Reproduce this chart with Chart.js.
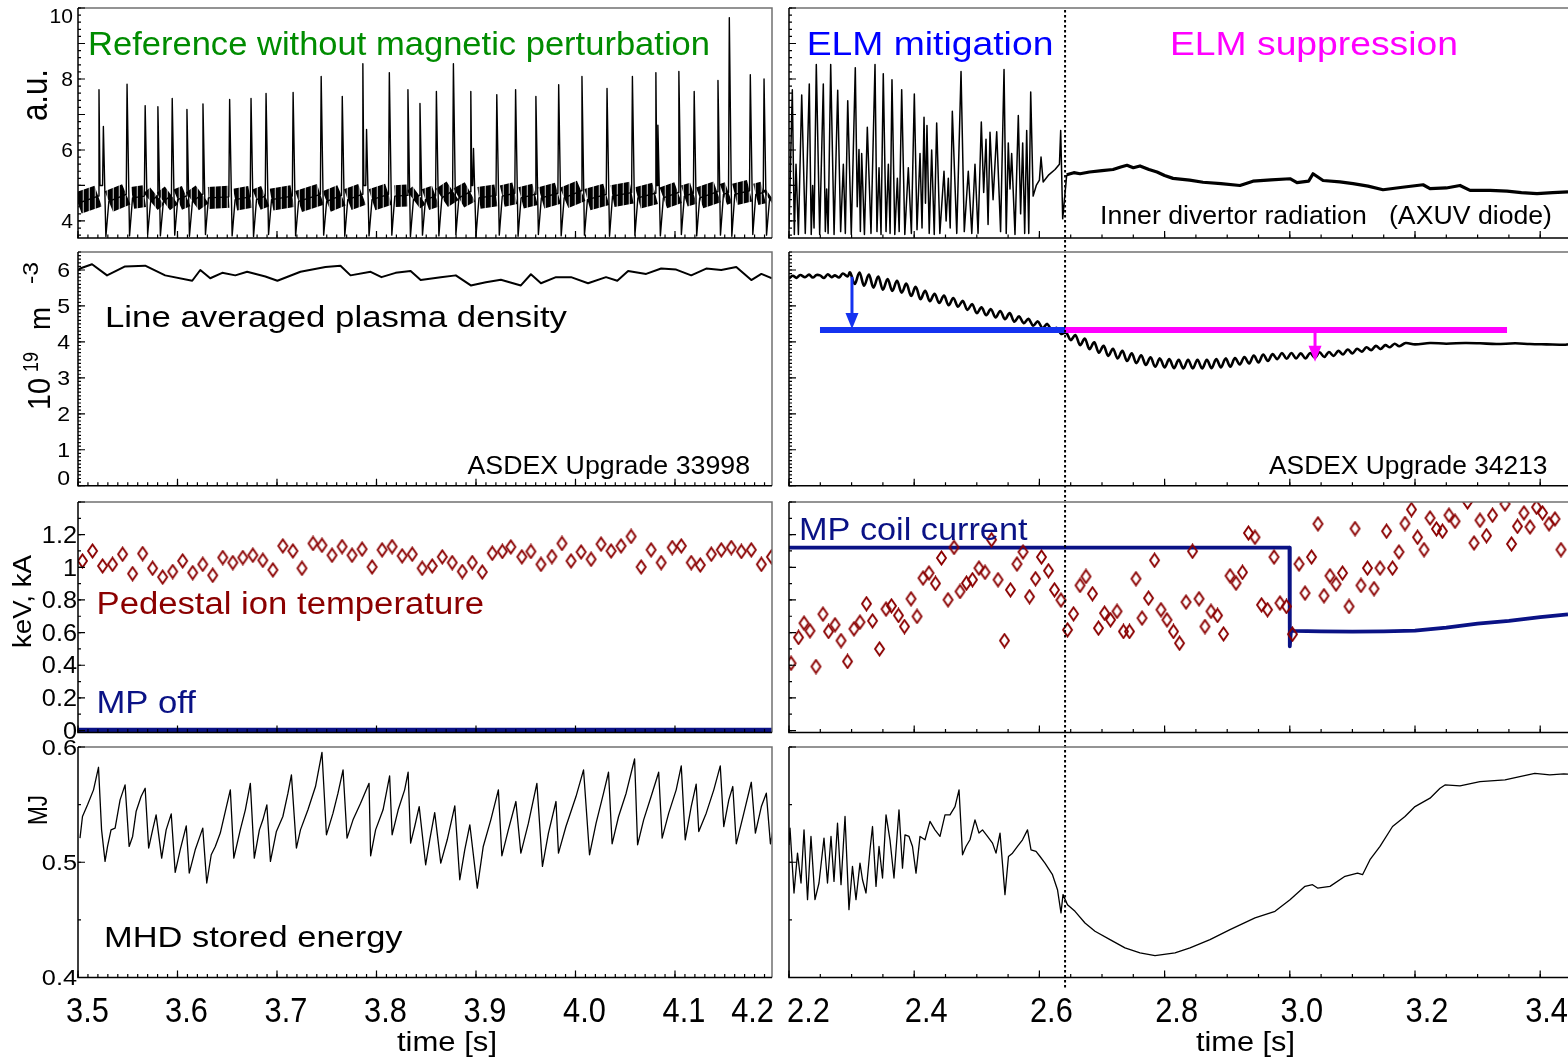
<!DOCTYPE html>
<html>
<head>
<meta charset="utf-8">
<script src="https://cdn.jsdelivr.net/npm/chart.js@4.4.1/dist/chart.umd.min.js"></script>
<style>
  html, body { margin: 0; padding: 0; background: #fff; }
  body { width: 1568px; height: 1060px; position: relative; overflow: hidden; }
  canvas { position: absolute; }
</style>
</head>
<body>
<canvas id="p1L"></canvas><canvas id="p1R"></canvas>
<canvas id="p2L"></canvas><canvas id="p2R"></canvas>
<canvas id="p3L"></canvas><canvas id="p3R"></canvas>
<canvas id="p4L"></canvas><canvas id="p4R"></canvas>
<script>
const FONT = '"Liberation Sans", Arial, Helvetica, sans-serif';
const BLACK = "#000", GREEN = "#008c00", BLUE = "#0000ff", LINEBLUE = "#1432f0";
const MAGENTA = "#ff00ff", NAVY = "#0a1285", DARKRED = "#8b0000";

// time axes [s]
const leftRange = [3.5, 4.1975];
const rightRange = [2.2, 3.4444];
const xTicksLeft = [3.5, 3.6, 3.7, 3.8, 3.9, 4.0, 4.1, 4.2];
const xTicksRight = [2.2, 2.4, 2.6, 2.8, 3.0, 3.2, 3.4];
const transitionT = 2.641; // end of ELM mitigation, start of suppression

// y tick labels
const yTicksAxuv = [4, 6, 8, 10];
const yTicksDensity = [0, 1, 2, 3, 4, 5, 6];
const yTicksTi = [0, 0.2, 0.4, 0.6, 0.8, 1, 1.2];
const yTicksW = [0.4, 0.5, 0.6];

// ---- inner divertor radiation, shot 33998 (no MP) ----
const elmT = [3.5211, 3.5255, 3.5493, 3.5675, 3.5803, 3.5947, 3.6095, 3.6256, 3.6524, 3.6739,
  3.6890, 3.7162, 3.7444, 3.7656, 3.7863, 3.7900, 3.8129, 3.8316, 3.8437, 3.8602,
  3.8773, 3.8948, 3.8975, 3.9209, 3.9398, 3.9602, 3.9831, 4.0065, 4.0317, 4.0572,
  4.0808, 4.0828, 4.1039, 4.1193, 4.1432, 4.1546, 4.1757, 4.1895];
const elmPeak = [7.70, 6.66, 7.85, 7.25, 7.22, 7.45, 7.14, 7.30, 7.42, 7.45,
  7.59, 7.62, 8.07, 7.51, 8.43, 6.58, 8.18, 7.70, 7.31, 7.65,
  8.43, 7.65, 6.04, 7.56, 7.70, 7.51, 7.84, 8.07, 7.73, 8.07,
  8.18, 6.70, 8.21, 7.65, 7.96, 9.73, 8.12, 8.00];
// post-ELM minimum (null: a second spike follows immediately)
const elmDip = [null, 3.56, 3.58, 3.62, 3.58, 3.60, 3.57, 3.62, 3.58, 3.56,
  3.62, 3.58, 3.60, 3.57, null, 3.58, 3.60, 3.56, 3.60, 3.58,
  3.62, null, 3.58, 3.60, 3.57, 3.62, 3.58, 3.60, 3.57, 3.60,
  null, 3.58, 3.62, 3.58, 3.60, 3.57, 3.62, 3.60];
// level of the noisy inter-ELM signal, start and end of each gap
const bandLo = [null, 4.55, 4.65, 4.55, 4.55, 4.60, 4.55, 4.65, 4.60, 4.60,
  4.60, 4.55, 4.55, 4.60, null, 4.60, 4.70, 4.60, 4.60, 4.65,
  4.65, null, 4.65, 4.70, 4.65, 4.65, 4.65, 4.60, 4.70, 4.65,
  null, 4.65, 4.70, 4.65, 4.75, 4.75, 4.75, 4.60];
const bandHi = [null, 4.75, 4.70, 4.70, 4.72, 4.70, 4.75, 4.68, 4.68, 4.70,
  4.70, 4.75, 4.72, 4.75, null, 4.75, 4.72, 4.72, 4.70, 4.85,
  4.82, null, 4.72, 4.78, 4.75, 4.78, 4.85, 4.75, 4.80, 4.78,
  null, 4.80, 4.78, 4.82, 4.80, 4.85, 4.80, 4.65];
const bandLead = [4.50, 4.70];
const elmGapLevel = 5.0;

// ---- inner divertor radiation, shot 34213 (MP on) ----
const axuvMitigation = [[2.2000,3.80],[2.2053,7.70],[2.2085,3.62],[2.2112,5.60],[2.2150,3.62],[2.2203,7.55],
  [2.2260,3.65],[2.2324,7.86],[2.2355,3.62],[2.2378,5.00],[2.2400,3.80],[2.2436,8.41],[2.2490,3.62],
  [2.2548,7.86],[2.2580,3.70],[2.2602,4.90],[2.2625,3.65],[2.2666,8.41],[2.2720,3.62],[2.2778,7.68],
  [2.2825,3.70],[2.2868,5.60],[2.2900,3.65],[2.2938,7.39],[2.2995,3.62],[2.3059,8.32],[2.3090,4.40],
  [2.3118,6.01],[2.3140,3.70],[2.3161,5.90],[2.3205,3.62],[2.3251,6.64],[2.3310,3.65],[2.3374,8.41],
  [2.3405,3.70],[2.3438,5.50],[2.3470,3.62],[2.3506,8.15],[2.3550,3.70],[2.3587,5.60],[2.3615,3.65],
  [2.3645,7.98],[2.3690,3.62],[2.3731,5.20],[2.3760,3.70],[2.3800,7.70],[2.3850,3.62],[2.3906,5.50],
  [2.3955,3.65],[2.4002,7.58],[2.4045,3.75],[2.4093,5.90],[2.4125,3.80],[2.4157,6.92],[2.4180,4.50],
  [2.4204,6.69],[2.4240,3.65],[2.4279,6.00],[2.4320,3.62],[2.4359,6.76],[2.4410,3.65],[2.4476,5.40],
  [2.4510,4.00],[2.4545,5.20],[2.4575,3.80],[2.4609,7.09],[2.4680,3.65],[2.4748,8.21],[2.4800,3.70],
  [2.4864,5.40],[2.4920,3.65],[2.4971,5.60],[2.5020,3.65],[2.5072,6.79],[2.5110,4.80],[2.5147,6.30],
  [2.5180,3.90],[2.5211,6.50],[2.5260,4.60],[2.5318,6.51],[2.5380,3.70],[2.5435,8.27],[2.5470,3.65],
  [2.5503,6.20],[2.5530,4.90],[2.5557,5.90],[2.5610,3.62],[2.5663,6.97],[2.5700,4.20],[2.5733,6.20],
  [2.5765,3.65],[2.5797,6.55],[2.5830,3.65],[2.5861,7.63],[2.5900,4.70],[2.5950,5.00],[2.6000,5.15],
  [2.6026,5.80],[2.6060,5.10],[2.6150,5.30],[2.6250,5.45],[2.6320,5.60],[2.6340,6.55],[2.6372,4.06],
  [2.6400,4.60],[2.6436,5.30]];
const axuvSuppression = [[2.6436,5.30],[2.6550,5.36],[2.6649,5.33],[2.6800,5.38],[2.7000,5.42],[2.7176,5.45],
  [2.7300,5.52],[2.7399,5.57],[2.7500,5.50],[2.7607,5.55],[2.7750,5.45],[2.7879,5.38],[2.8000,5.28],
  [2.8134,5.20],[2.8400,5.15],[2.8613,5.09],[2.8900,5.05],[2.9204,5.00],[2.9412,5.12],[2.9700,5.16],
  [3.0003,5.19],[3.0115,5.08],[3.0300,5.12],[3.0371,5.33],[3.0531,5.14],[3.0800,5.10],[3.1010,5.05],
  [3.1250,4.98],[3.1489,4.88],[3.1800,4.95],[3.2129,5.02],[3.2240,4.91],[3.2500,4.93],[3.2719,5.00],
  [3.2879,4.86],[3.3200,4.86],[3.3470,4.84],[3.3700,4.80],[3.3949,4.77],[3.4200,4.80],[3.4444,4.82]];

// ---- line averaged density [1e19 m^-3] ----
const densityLeft = [[3.5000,5.98],[3.5020,6.04],[3.5141,6.16],[3.5292,5.85],[3.5473,6.10],[3.5675,6.12],
  [3.5876,5.85],[3.6148,5.70],[3.6229,6.00],[3.6329,5.77],[3.6450,5.92],[3.6581,5.85],[3.6700,5.95],
  [3.6883,5.82],[3.7004,5.70],[3.7236,5.95],[3.7487,6.08],[3.7638,6.12],[3.7739,5.85],[3.7941,5.95],
  [3.8050,5.80],[3.8192,5.92],[3.8343,5.97],[3.8444,5.72],[3.8646,5.80],[3.8797,5.85],[3.8948,5.57],
  [3.9099,5.66],[3.9250,5.73],[3.9451,5.57],[3.9552,5.88],[3.9653,5.63],[3.9804,5.80],[3.9955,5.80],
  [4.0126,5.63],[4.0307,5.80],[4.0420,5.70],[4.0529,5.97],[4.0710,5.89],[4.0861,6.04],[4.1012,6.01],
  [4.1163,5.85],[4.1314,6.04],[4.1465,6.00],[4.1616,6.08],[4.1767,5.72],[4.1868,5.89],[4.1975,5.77]];
const densityRight = [[2.2000,5.76],[2.2060,5.84],[2.2120,5.78],[2.2180,5.86],[2.2256,5.80],[2.2320,5.87],
  [2.2380,5.79],[2.2440,5.86],[2.2495,5.85],[2.2560,5.78],[2.2620,5.88],[2.2680,5.80],[2.2735,5.85],
  [2.2800,5.79],[2.2860,5.90],[2.2935,5.82],[2.2975,5.93],[2.3050,5.61],[2.3125,5.93],[2.3200,5.56],
  [2.3275,5.87],[2.3350,5.51],[2.3425,5.82],[2.3500,5.45],[2.3575,5.75],[2.3650,5.42],[2.3725,5.70],
  [2.3800,5.37],[2.3875,5.62],[2.3950,5.28],[2.4025,5.53],[2.4100,5.19],[2.4175,5.42],[2.4250,5.13],
  [2.4325,5.34],[2.4400,5.08],[2.4475,5.29],[2.4550,5.02],[2.4625,5.22],[2.4700,4.98],[2.4775,5.14],
  [2.4850,4.89],[2.4925,5.05],[2.5000,4.80],[2.5075,4.96],[2.5150,4.74],[2.5225,4.91],[2.5300,4.68],
  [2.5375,4.86],[2.5450,4.63],[2.5525,4.80],[2.5600,4.56],[2.5675,4.71],[2.5750,4.52],[2.5825,4.64],
  [2.5900,4.45],[2.5975,4.57],[2.6050,4.38],[2.6125,4.50],[2.6200,4.32],[2.6275,4.39],[2.6350,4.22],
  [2.6425,4.26],[2.6500,4.05],[2.6575,4.19],[2.6650,3.91],[2.6725,4.09],[2.6800,3.80],[2.6875,3.99],
  [2.6950,3.70],[2.7025,3.89],[2.7100,3.61],[2.7175,3.81],[2.7250,3.54],[2.7325,3.75],[2.7400,3.47],
  [2.7475,3.68],[2.7550,3.41],[2.7625,3.63],[2.7700,3.36],[2.7775,3.57],[2.7850,3.31],[2.7925,3.54],
  [2.8000,3.29],[2.8075,3.52],[2.8150,3.27],[2.8225,3.50],[2.8300,3.26],[2.8375,3.50],[2.8450,3.26],
  [2.8525,3.50],[2.8600,3.26],[2.8675,3.50],[2.8750,3.27],[2.8825,3.52],[2.8900,3.29],[2.8975,3.54],
  [2.9050,3.31],[2.9125,3.55],[2.9200,3.37],[2.9275,3.58],[2.9350,3.40],[2.9425,3.62],[2.9500,3.43],
  [2.9575,3.65],[2.9650,3.47],[2.9725,3.66],[2.9800,3.52],[2.9875,3.69],[2.9950,3.53],[3.0025,3.69],
  [3.0100,3.54],[3.0175,3.68],[3.0250,3.54],[3.0325,3.69],[3.0400,3.56],[3.0475,3.71],[3.0550,3.58],
  [3.0625,3.72],[3.0700,3.61],[3.0775,3.75],[3.0850,3.65],[3.0925,3.79],[3.1000,3.68],[3.1075,3.81],
  [3.1150,3.73],[3.1225,3.85],[3.1300,3.77],[3.1375,3.89],[3.1450,3.80],[3.1525,3.91],[3.1600,3.85],
  [3.1675,3.95],[3.1750,3.88],[3.1850,3.97],[3.2000,3.93],[3.2240,3.97],[3.2500,3.95],[3.2800,3.97],
  [3.3038,3.96],[3.3300,3.94],[3.3600,3.96],[3.3837,3.94],[3.4100,3.93],[3.4393,3.92],[3.4444,3.93]];
// density levels reached in each phase and the drops marked by arrows
const densityLevel = 4.33;
const mitigationSpan = [2.2495, 2.641];
const suppressionSpan = [2.641, 3.347];
const arrowT = [2.3006, 3.0403];
const arrowFrom = [5.81, 4.33];
const arrowTo = [4.36, 3.45];

// ---- pedestal ion temperature [keV] and MP coil current [kA] ----
const tiLeft = [[3.5045,1.039],[3.5146,1.100],[3.5247,1.008],[3.5347,1.018],[3.5448,1.080],[3.5549,0.961],
  [3.5650,1.084],[3.5750,0.994],[3.5851,0.940],[3.5952,0.974],[3.6052,1.039],[3.6153,0.967],[3.6254,1.018],
  [3.6354,0.951],[3.6455,1.060],[3.6556,1.029],[3.6657,1.060],[3.6757,1.074],[3.6858,1.043],[3.6959,0.984],
  [3.7059,1.131],[3.7160,1.100],[3.7251,0.994],[3.7362,1.146],[3.7452,1.135],[3.7553,1.074],[3.7654,1.127],
  [3.7754,1.074],[3.7855,1.111],[3.7956,1.002],[3.8056,1.107],[3.8157,1.127],[3.8258,1.070],[3.8359,1.080],
  [3.8459,0.994],[3.8560,1.008],[3.8661,1.064],[3.8761,1.029],[3.8862,0.974],[3.8963,1.029],[3.9063,0.971],
  [3.9164,1.086],[3.9265,1.097],[3.9350,1.125],[3.9461,1.064],[3.9552,1.097],[3.9653,1.018],[3.9763,1.066],
  [3.9864,1.146],[3.9955,1.039],[4.0056,1.094],[4.0157,1.049],[4.0257,1.142],[4.0358,1.100],[4.0458,1.131],
  [4.0559,1.189],[4.0660,1.002],[4.0760,1.107],[4.0861,1.029],[4.0972,1.121],[4.1063,1.131],[4.1163,1.029],
  [4.1254,1.014],[4.1365,1.080],[4.1465,1.107],[4.1566,1.121],[4.1667,1.097],[4.1767,1.107],[4.1868,1.018],
  [4.1969,1.064]];
const tiRight = [[2.2032,0.412],[2.2152,0.570],[2.2240,0.658],[2.2335,0.611],[2.2431,0.392],[2.2543,0.713],
  [2.2631,0.607],[2.2735,0.648],[2.2831,0.551],[2.2935,0.423],[2.3038,0.623],[2.3134,0.664],[2.3238,0.777],
  [2.3334,0.672],[2.3446,0.500],[2.3550,0.744],[2.3637,0.764],[2.3749,0.705],[2.3845,0.637],[2.3949,0.807],
  [2.4045,0.699],[2.4141,0.934],[2.4236,0.965],[2.4340,0.901],[2.4436,1.057],[2.4540,0.801],[2.4636,1.122],
  [2.4732,0.852],[2.4835,0.903],[2.4931,0.924],[2.5035,0.995],[2.5131,0.969],[2.5235,1.169],[2.5339,0.924],
  [2.5442,0.551],[2.5538,0.862],[2.5642,1.020],[2.5738,1.094],[2.5842,0.820],[2.5938,0.930],[2.6033,1.063],
  [2.6145,0.979],[2.6241,0.862],[2.6345,0.799],[2.6449,0.617],[2.6545,0.715],[2.6649,0.889],[2.6744,0.944],
  [2.6848,0.838],[2.6944,0.627],[2.7040,0.719],[2.7136,0.678],[2.7240,0.730],[2.7343,0.607],[2.7439,0.607],
  [2.7543,0.930],[2.7639,0.689],[2.7743,0.811],[2.7839,1.043],[2.7942,0.740],[2.8038,0.678],[2.8142,0.607],
  [2.8238,0.535],[2.8342,0.787],[2.8446,1.098],[2.8550,0.807],[2.8645,0.637],[2.8741,0.730],[2.8845,0.705],
  [2.8941,0.592],[2.9045,0.948],[2.9141,0.903],[2.9244,0.969],[2.9340,1.210],[2.9444,1.184],[2.9548,0.770],
  [2.9644,0.740],[2.9748,1.063],[2.9843,0.781],[2.9947,0.760],[3.0043,0.590],[3.0147,1.020],[3.0243,0.842],
  [3.0347,1.063],[3.0450,1.266],[3.0546,0.826],[3.0642,0.948],[3.0738,0.897],[3.0842,0.965],[3.0946,0.760],
  [3.1042,1.237],[3.1137,0.889],[3.1241,0.995],[3.1345,0.869],[3.1441,0.995],[3.1545,1.221],[3.1641,0.995],
  [3.1744,1.094],[3.1840,1.268],[3.1944,1.354],[3.2040,1.184],[3.2144,1.108],[3.2240,1.302],[3.2343,1.235],
  [3.2439,1.221],[3.2543,1.319],[3.2639,1.282],[3.2839,1.400],[3.2943,1.149],[3.3038,1.288],[3.3142,1.194],
  [3.3238,1.319],[3.3438,1.388],[3.3542,1.143],[3.3637,1.251],[3.3741,1.333],[3.3837,1.247],[3.3941,1.368],
  [3.4037,1.333],[3.4141,1.266],[3.4236,1.296],[3.4332,1.108]];
const coilLeft = [[3.5,0.004],[4.1975,0.004]];
const coilRight = [[2.2000,1.121],[2.5000,1.121],[2.9995,1.121],[3.0000,0.516],[3.0020,0.625],[3.0060,0.610],
  [3.0500,0.607],[3.1000,0.606],[3.1500,0.608],[3.2000,0.612],[3.2500,0.630],[3.3000,0.655],[3.3500,0.672],
  [3.4000,0.695],[3.4444,0.712]];

// ---- MHD stored energy [MJ] ----
const wmhdLeft = [[3.5020,0.5209],[3.5045,0.5397],[3.5096,0.5498],[3.5156,0.5628],[3.5206,0.5824],[3.5237,0.5281],
  [3.5272,0.5007],[3.5297,0.5137],[3.5332,0.5281],[3.5373,0.5296],[3.5423,0.5541],[3.5473,0.5671],[3.5514,0.5137],
  [3.5549,0.5224],[3.5584,0.5440],[3.5634,0.5570],[3.5675,0.5642],[3.5710,0.5123],[3.5750,0.5281],[3.5785,0.5411],
  [3.5841,0.5036],[3.5886,0.5281],[3.5937,0.5420],[3.5977,0.4912],[3.6027,0.5108],[3.6088,0.5316],[3.6118,0.4906],
  [3.6178,0.5108],[3.6254,0.5296],[3.6294,0.4820],[3.6339,0.5065],[3.6380,0.5137],[3.6430,0.5253],[3.6480,0.5440],
  [3.6531,0.5628],[3.6566,0.5036],[3.6631,0.5281],[3.6682,0.5455],[3.6732,0.5685],[3.6772,0.5036],[3.6823,0.5281],
  [3.6858,0.5368],[3.6898,0.5498],[3.6934,0.5007],[3.6994,0.5267],[3.7059,0.5397],[3.7110,0.5599],[3.7145,0.5758],
  [3.7195,0.5123],[3.7236,0.5281],[3.7311,0.5455],[3.7387,0.5657],[3.7452,0.5954],[3.7497,0.5238],[3.7563,0.5426],
  [3.7613,0.5599],[3.7664,0.5801],[3.7704,0.5209],[3.7764,0.5368],[3.7840,0.5512],[3.7925,0.5685],[3.7941,0.5056],
  [3.7991,0.5281],[3.8066,0.5455],[3.8132,0.5749],[3.8157,0.5238],[3.8218,0.5455],[3.8283,0.5628],[3.8318,0.5781],
  [3.8343,0.5166],[3.8384,0.5310],[3.8429,0.5483],[3.8494,0.4978],[3.8535,0.5195],[3.8585,0.5431],[3.8646,0.4993],
  [3.8711,0.5195],[3.8787,0.5489],[3.8837,0.4848],[3.8887,0.5108],[3.8938,0.5325],[3.9013,0.4776],[3.9073,0.5137],
  [3.9149,0.5368],[3.9225,0.5628],[3.9260,0.5056],[3.9325,0.5281],[3.9401,0.5527],[3.9451,0.5079],[3.9527,0.5339],
  [3.9612,0.5685],[3.9668,0.4964],[3.9728,0.5253],[3.9804,0.5527],[3.9829,0.5079],[3.9904,0.5310],[4.0005,0.5570],
  [4.0081,0.5801],[4.0141,0.5065],[4.0207,0.5339],[4.0282,0.5599],[4.0332,0.5781],[4.0368,0.5160],[4.0433,0.5397],
  [4.0509,0.5599],[4.0594,0.5896],[4.0624,0.5152],[4.0685,0.5368],[4.0760,0.5570],[4.0836,0.5781],[4.0871,0.5209],
  [4.0937,0.5426],[4.1012,0.5628],[4.1063,0.5836],[4.1103,0.5195],[4.1163,0.5483],[4.1213,0.5677],[4.1239,0.5267],
  [4.1314,0.5426],[4.1390,0.5628],[4.1455,0.5836],[4.1490,0.5310],[4.1541,0.5541],[4.1581,0.5657],[4.1616,0.5160],
  [4.1692,0.5426],[4.1767,0.5694],[4.1808,0.5253],[4.1868,0.5483],[4.1918,0.5599],[4.1959,0.5160],[4.2009,0.5397]];
const wmhdRight = [[2.2000,0.5150],[2.2016,0.5296],[2.2080,0.4733],[2.2136,0.5079],[2.2192,0.4820],[2.2240,0.5281],
  [2.2296,0.4675],[2.2351,0.5224],[2.2415,0.4675],[2.2479,0.4820],[2.2559,0.5209],[2.2615,0.4820],[2.2671,0.5224],
  [2.2719,0.4834],[2.2775,0.5339],[2.2831,0.4805],[2.2895,0.5397],[2.2958,0.4589],[2.3014,0.4964],[2.3070,0.4675],
  [2.3134,0.4993],[2.3174,0.4848],[2.3230,0.4733],[2.3294,0.5108],[2.3334,0.5310],[2.3390,0.4791],[2.3438,0.5137],
  [2.3494,0.4863],[2.3550,0.5411],[2.3613,0.5195],[2.3677,0.4863],[2.3757,0.5455],[2.3813,0.4949],[2.3853,0.5238],
  [2.3917,0.5224],[2.3973,0.5137],[2.4029,0.4906],[2.4093,0.5224],[2.4173,0.5195],[2.4252,0.5354],[2.4332,0.5281],
  [2.4412,0.5224],[2.4492,0.5411],[2.4572,0.5411],[2.4652,0.5483],[2.4716,0.5628],[2.4772,0.5065],[2.4827,0.5137],
  [2.4891,0.5195],[2.4971,0.5368],[2.5035,0.5253],[2.5091,0.5281],[2.5171,0.5224],[2.5251,0.5166],[2.5307,0.5079],
  [2.5371,0.5253],[2.5450,0.4719],[2.5506,0.5050],[2.5570,0.5079],[2.5650,0.5137],[2.5730,0.5195],[2.5810,0.5281],
  [2.5866,0.5108],[2.5946,0.5094],[2.6010,0.5050],[2.6089,0.4993],[2.6209,0.4892],[2.6289,0.4762],[2.6345,0.4560],
  [2.6377,0.4719],[2.6449,0.4632],[2.6569,0.4574],[2.6728,0.4473],[2.6888,0.4401],[2.7128,0.4329],[2.7367,0.4257],
  [2.7607,0.4214],[2.7847,0.4190],[2.8166,0.4214],[2.8406,0.4257],[2.8725,0.4329],[2.9045,0.4416],[2.9444,0.4517],
  [2.9764,0.4574],[3.0003,0.4675],[3.0243,0.4791],[3.0363,0.4805],[3.0443,0.4776],[3.0642,0.4791],[3.0882,0.4878],
  [3.1082,0.4906],[3.1162,0.4892],[3.1281,0.5022],[3.1441,0.5137],[3.1641,0.5310],[3.1840,0.5397],[3.2000,0.5483],
  [3.2240,0.5556],[3.2400,0.5642],[3.2479,0.5671],[3.2719,0.5662],[3.3038,0.5700],[3.3438,0.5714],[3.3674,0.5743],
  [3.3914,0.5772],[3.4153,0.5758],[3.4377,0.5766],[3.4444,0.5765]];

// ---------------------------------------------------------------
const pts = arr => arr.map(([x, y]) => ({ x, y }));

// ELM trace (thin line) and the noisy baseline between ELMs (textured band)
const elmTrace = [{ x: leftRange[0], y: bandLead[0] }];
const elmBand = [{ x: leftRange[0], y: bandLead[0] }, { x: elmT[0] - 0.0008, y: bandLead[1] }, { x: elmT[0] - 0.0008, y: null }];
for (let i = 0; i < elmT.length; i++) {
  const t = elmT[i];
  const before = i === 0 ? bandLead[1] : (elmDip[i - 1] === null ? elmGapLevel : bandHi[i - 1]);
  elmTrace.push({ x: t - 0.0008, y: before }, { x: t, y: elmPeak[i] });
  if (elmDip[i] === null) { elmTrace.push({ x: t + 0.001, y: elmGapLevel }); continue; }
  const tEnd = i + 1 < elmT.length ? elmT[i + 1] - 0.0008 : leftRange[1];
  elmTrace.push({ x: t + 0.0025, y: elmDip[i] }, { x: t + 0.0055, y: bandLo[i] });
  elmBand.push({ x: t + 0.0055, y: bandLo[i] }, { x: tEnd, y: bandHi[i] }, { x: tEnd, y: null });
}
elmTrace.push({ x: leftRange[1], y: bandHi[elmT.length - 1] });

// vertical-stripe texture imitating the dense noise of the raw signal
function stripes() {
  const c = document.createElement("canvas");
  c.width = 6; c.height = 4;
  const g = c.getContext("2d");
  g.fillStyle = "#000"; g.fillRect(0, 0, 4, 4);
  g.fillStyle = "#333"; g.fillRect(4, 0, 1, 4);
  g.fillStyle = "#aaa"; g.fillRect(5, 0, 1, 4);
  return g.createPattern(c, "repeat");
}
const NOISE = stripes();

function diamond() {
  const c = document.createElement("canvas");
  c.width = 13; c.height = 16;
  const g = c.getContext("2d");
  g.strokeStyle = DARKRED; g.lineWidth = 1.9;
  g.beginPath(); g.moveTo(6.5, 1.5); g.lineTo(11, 8); g.lineTo(6.5, 14.5); g.lineTo(2, 8); g.closePath(); g.stroke();
  return c;
}
const DIAMOND = diamond();

const line = (data, color, width, extra) => Object.assign({
  data, borderColor: color, borderWidth: width, pointRadius: 0, fill: false, tension: 0,
  borderCapStyle: "butt", borderJoinStyle: "round"
}, extra || {});
const marks = data => ({ data, showLine: false, pointStyle: DIAMOND, pointRadius: 6 });

function drawText(ctx, str, x, y, size, width, color, rot) {
  ctx.save();
  ctx.font = size + "px " + FONT;
  ctx.fillStyle = color || BLACK;
  ctx.textAlign = "left";
  ctx.textBaseline = "alphabetic";
  const w = ctx.measureText(str).width;
  ctx.translate(x, y);
  if (rot) ctx.rotate(rot);
  if (width) ctx.scale(width / w, 1);
  ctx.fillText(str, 0, 0);
  ctx.restore();
}

function decorPlugin(d) {
  return {
    id: "decor",
    afterDraw(chart) {
      const ctx = chart.ctx, a = chart.chartArea;
      const xs = chart.scales.x, ys = chart.scales.y;
      const X = v => xs.getPixelForValue(v), Y = v => ys.getPixelForValue(v);
      ctx.save();

      (d.arrows || []).forEach(ar => {
        const x = X(ar.t), y0 = Y(ar.from), y1 = Y(ar.to);
        ctx.strokeStyle = ar.color; ctx.fillStyle = ar.color; ctx.lineWidth = 3;
        ctx.beginPath(); ctx.moveTo(x, y0); ctx.lineTo(x, y1 - 12); ctx.stroke();
        ctx.beginPath(); ctx.moveTo(x - 6.5, y1 - 16); ctx.lineTo(x + 6.5, y1 - 16); ctx.lineTo(x, y1);
        ctx.closePath(); ctx.fill();
      });

      if (d.vline) {
        const x = X(transitionT);
        ctx.save();
        ctx.strokeStyle = BLACK; ctx.lineWidth = 2;
        ctx.setLineDash([2.5, 2.5]); ctx.lineDashOffset = d.vline[0] % 5;
        ctx.beginPath(); ctx.moveTo(x, d.vline[0] - d.oy); ctx.lineTo(x, d.vline[1] - d.oy); ctx.stroke();
        ctx.restore();
      }

      // frame
      ctx.lineWidth = 1.5;
      ctx.strokeStyle = "#707070";
      ctx.beginPath(); ctx.moveTo(a.left, a.top); ctx.lineTo(a.right, a.top);
      if (d.rightBorder) ctx.lineTo(a.right, a.bottom);
      ctx.stroke();
      ctx.strokeStyle = BLACK;
      ctx.beginPath(); ctx.moveTo(a.left, a.top); ctx.lineTo(a.left, a.bottom); ctx.lineTo(a.right, a.bottom); ctx.stroke();

      // inward ticks
      ctx.lineWidth = 1.2;
      const ticks = (scale, step, len, horiz) => {
        const k0 = Math.ceil(scale.min / step - 1e-6), k1 = Math.floor(scale.max / step + 1e-6);
        ctx.beginPath();
        for (let k = k0; k <= k1; k++) {
          const p = scale.getPixelForValue(k * step);
          if (horiz) { ctx.moveTo(p, a.bottom); ctx.lineTo(p, a.bottom - len); }
          else { ctx.moveTo(a.left, p); ctx.lineTo(a.left + len, p); }
        }
        ctx.stroke();
      };
      if (d.xMinor) ticks(xs, d.xMinor, 3.5, true);
      ticks(xs, d.xMajor, 7, true);
      if (d.yMinor) ticks(ys, d.yMinor, 3, false);
      ticks(ys, d.yMajor, 7, false);

      if (d.yLab) {
        const L = d.yLab, capH = 0.716 * L.size;
        L.vals.forEach(v => {
          let yc = Y(v);
          if (L.clampTop) yc = Math.max(yc, a.top + capH / 2 + 1);
          if (L.clampBottom) yc = Math.min(yc, a.bottom - capH / 2 - 1);
          const s = String(v);
          ctx.font = L.size + "px " + FONT;
          const w = ctx.measureText(s).width * L.stretch;
          drawText(ctx, s, L.right - d.ox - w, yc + capH / 2, L.size, w, BLACK);
        });
      }

      if (d.xLab) {
        const L = d.xLab;
        L.vals.forEach(v => {
          const s = v.toFixed(1);
          ctx.font = L.size + "px " + FONT;
          const w = ctx.measureText(s).width * L.stretch;
          let cx = X(v) + L.shift;
          const minL = L.minLeft - d.ox, maxR = L.maxRight - d.ox;
          if (cx - w / 2 < minL) cx = minL + w / 2;
          if (cx + w / 2 > maxR) cx = maxR - w / 2;
          drawText(ctx, s, cx - w / 2, L.baseline - d.oy, L.size, w, BLACK);
        });
      }

      (d.texts || []).forEach(t => drawText(ctx, t[0], t[1] - d.ox, t[2] - d.oy, t[3], t[4], t[5] || BLACK, t[6] || 0));
      ctx.restore();
    }
  };
}

const COL = { L: { ox: 0, w: 785, l: 78, r: 772, x: leftRange }, R: { ox: 780, w: 788, l: 789, r: 1568, x: rightRange } };
const ROW = [
  { oy: 0, h: 250, t: 8, b: 238, v: [8, 245] },
  { oy: 240, h: 260, t: 252, b: 485.7, v: [245, 495] },
  { oy: 490, h: 255, t: 502, b: 732.5, v: [495, 740] },
  { oy: 735, h: 325, t: 747, b: 977.5, v: [740, 990] }
];

function panel(id, col, row, yr, datasets, deco) {
  const c = COL[col], r = ROW[row];
  const cv = document.getElementById(id);
  cv.width = c.w; cv.height = r.h;
  Object.assign(cv.style, { left: c.ox + "px", top: r.oy + "px", width: c.w + "px", height: r.h + "px" });
  deco.ox = c.ox; deco.oy = r.oy;
  if (col === "L") { deco.xMajor = 0.1; deco.xMinor = 0.01; deco.rightBorder = true; }
  else { deco.xMajor = 0.2; deco.xMinor = 0.05; deco.vline = r.v; }
  return new Chart(cv, {
    type: "line",
    data: { datasets },
    options: {
      responsive: false, animation: false, events: [],
      layout: { autoPadding: false, padding: { left: c.l - c.ox, right: c.ox + c.w - c.r, top: r.t - r.oy, bottom: r.oy + r.h - r.b } },
      scales: {
        x: { type: "linear", display: false, min: c.x[0], max: c.x[1] },
        y: { type: "linear", display: false, min: yr[0], max: yr[1] }
      },
      plugins: { legend: { display: false }, tooltip: { enabled: false } }
    },
    plugins: [decorPlugin(deco)]
  });
}

const ROT = -Math.PI / 2;
const axuvY = [3.52, 10], denY = [0, 6.5], tiY = [-0.012, 1.4], wY = [0.4, 0.6];

panel("p1L", "L", 0, axuvY, [
  line(elmTrace, BLACK, 1.4),
  line(elmBand, NOISE, 22)
], {
  yMajor: 1, yMinor: 0.2,
  yLab: { vals: yTicksAxuv, size: 19.5, stretch: 1.08, right: 73, clampTop: true },
  texts: [["Reference without magnetic perturbation", 88, 55, 32.5, 622, GREEN],
          ["a.u.", 47, 121, 36, 52, BLACK, ROT]]
});

panel("p1R", "R", 0, axuvY, [
  line(pts(axuvMitigation), BLACK, 1.5),
  line(pts(axuvSuppression), BLACK, 3.2)
], {
  yMajor: 1, yMinor: 0.2,
  texts: [["ELM mitigation", 806.7, 55, 32.5, 246.7, BLUE],
          ["ELM suppression", 1170, 55, 32.5, 288, MAGENTA],
          ["Inner divertor radiation   (AXUV diode)", 1100, 224, 26.5, 452]]
});

panel("p2L", "L", 1, denY, [
  line(pts(densityLeft), BLACK, 2)
], {
  yMajor: 1, yMinor: 0.1,
  yLab: { vals: yTicksDensity, size: 21, stretch: 1.1, right: 70, clampBottom: true },
  texts: [["Line averaged plasma density", 105, 327, 30, 462],
          ["ASDEX Upgrade 33998", 467.5, 474, 26, 282.5],
          ["10", 50, 410, 32, 32, BLACK, ROT],
          ["19", 38, 372, 22, 20, BLACK, ROT],
          ["m", 50, 330, 30, 23, BLACK, ROT],
          ["-3", 38, 284, 22, 22, BLACK, ROT]]
});

panel("p2R", "R", 1, denY, [
  line([{ x: mitigationSpan[0], y: densityLevel }, { x: mitigationSpan[1], y: densityLevel }], LINEBLUE, 6),
  line([{ x: suppressionSpan[0], y: densityLevel }, { x: suppressionSpan[1], y: densityLevel }], MAGENTA, 6),
  line(pts(densityRight), BLACK, 2.6, { tension: 0.35 })
], {
  yMajor: 1, yMinor: 0.1,
  arrows: [{ t: arrowT[0], from: arrowFrom[0], to: arrowTo[0], color: LINEBLUE },
           { t: arrowT[1], from: arrowFrom[1], to: arrowTo[1], color: MAGENTA }],
  texts: [["ASDEX Upgrade 34213", 1269, 474, 26, 278.5]]
});

panel("p3L", "L", 2, tiY, [
  marks(pts(tiLeft)),
  line(pts(coilLeft), NAVY, 4.5)
], {
  yMajor: 0.2, yMinor: 0.1,
  yLab: { vals: yTicksTi, size: 23, stretch: 1.1, right: 77 },
  texts: [["Pedestal ion temperature", 96.5, 614, 31, 387.5, DARKRED],
          ["MP off", 96.5, 713, 31, 99.5, NAVY],
          ["keV, kA", 31, 648, 25, 93, BLACK, ROT]]
});

panel("p3R", "R", 2, tiY, [
  marks(pts(tiRight)),
  line(pts(coilRight), NAVY, 3.8)
], {
  yMajor: 0.2, yMinor: 0.1,
  texts: [["MP coil current", 799, 540, 31, 228.5, NAVY]]
});

panel("p4L", "L", 3, wY, [
  line(pts(wmhdLeft), BLACK, 1.3)
], {
  yMajor: 0.1, yMinor: 0.05,
  yLab: { vals: yTicksW, size: 22, stretch: 1.15, right: 77 },
  xLab: { vals: xTicksLeft, size: 35, stretch: 0.88, shift: 9, minLeft: 66, maxRight: 774, baseline: 1022 },
  texts: [["MHD stored energy", 104, 946.7, 30, 298.5],
          ["MJ", 47, 825, 28, 30, BLACK, ROT],
          ["time [s]", 397, 1051, 27, 100]]
});

panel("p4R", "R", 3, wY, [
  line(pts(wmhdRight), BLACK, 1.3)
], {
  yMajor: 0.1, yMinor: 0.05,
  xLab: { vals: xTicksRight, size: 35, stretch: 0.88, shift: 12, minLeft: 787, maxRight: 1568, baseline: 1022 },
  texts: [["time [s]", 1196, 1051, 27, 99]]
});
</script>
</body>
</html>
